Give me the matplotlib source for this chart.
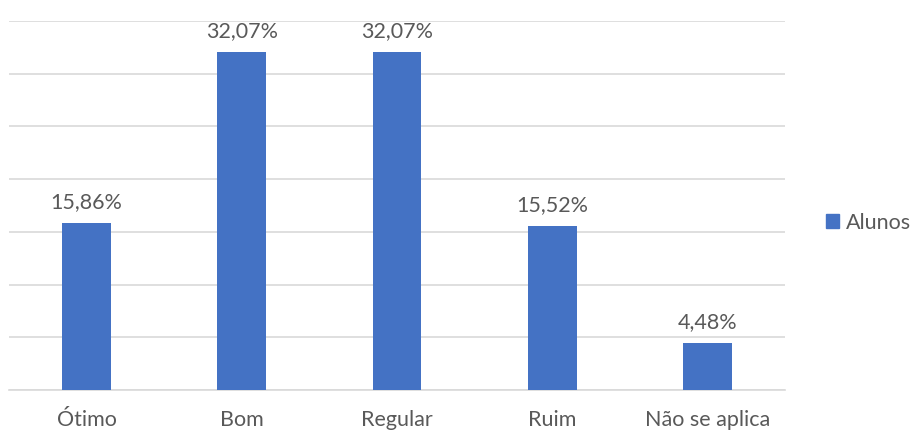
import matplotlib.pyplot as plt
from matplotlib.patches import Patch

categorias = ['Ótimo', 'Bom', 'Regular', 'Ruim', 'Não se aplica']
alunos = [15.86, 32.07, 32.07, 15.52, 4.48]
rotulos = ['15,86%', '32,07%', '32,07%', '15,52%', '4,48%']

plt.rcParams['font.family'] = ['Lato', 'DejaVu Sans']
cor_texto = '#595959'
azul = '#4472c4'

fig = plt.figure(figsize=(9.14, 4.30), dpi=100)
ax = fig.add_axes([0.0099, 0.093, 0.849, 0.858])

x = range(len(categorias))
barras = ax.bar(x, alunos, width=0.315, color=azul, zorder=3)

for b, txt in zip(barras, rotulos):
    ax.annotate(txt, (b.get_x() + b.get_width() / 2, b.get_height()),
                xytext=(0, 8), textcoords='offset points',
                ha='center', va='bottom', fontsize=15.5, color=cor_texto)

ax.set_xlim(-0.5, len(categorias) - 0.5)
ax.set_ylim(0, 35)
ax.set_yticks(range(0, 36, 5))
ax.yaxis.grid(True, color='#d9d9d9', linewidth=1.2, zorder=0)
ax.tick_params(axis='y', left=False, labelleft=False)
ax.tick_params(axis='x', bottom=False, pad=11, labelsize=15.5, labelcolor=cor_texto)
ax.set_xticks(list(x))
ax.set_xticklabels(categorias)
for s in ['top', 'right', 'left']:
    ax.spines[s].set_visible(False)
ax.spines['bottom'].set_color('#d9d9d9')
ax.spines['bottom'].set_linewidth(1.2)

fig.legend(handles=[Patch(color=azul, label='Alunos')], loc='center left',
           bbox_to_anchor=(0.904, 0.482), frameon=False, fontsize=15.5,
           labelcolor=cor_texto, handlelength=0.6, handleheight=0.6,
           handletextpad=0.3, borderaxespad=0, borderpad=0)

fig.savefig('out.png', dpi=100)
